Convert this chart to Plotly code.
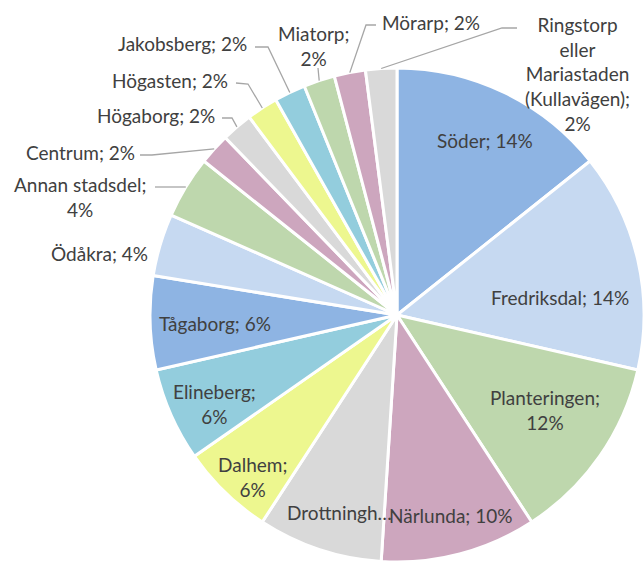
import math
import plotly.graph_objects as go

# ---------------------------------------------------------------------------
# Data: answers per district (n = 49)
# ---------------------------------------------------------------------------
districts = [
    "Söder", "Fredriksdal", "Planteringen", "Närlunda", "Drottninghög",
    "Dalhem", "Elineberg", "Tågaborg", "Ödåkra", "Annan stadsdel",
    "Centrum", "Högaborg", "Högasten", "Jakobsberg", "Miatorp", "Mörarp",
    "Ringstorp eller Mariastaden (Kullavägen)",
]
counts = [7, 7, 6, 5, 4, 3, 3, 3, 2, 2, 1, 1, 1, 1, 1, 1, 1]

# ---------------------------------------------------------------------------
# Styling
# ---------------------------------------------------------------------------
BLUE, LBLUE, GREEN, PINK = "#8EB4E3", "#C6D9F1", "#BED7AD", "#CDA6BE"
GRAY, YELLOW, TEAL = "#D9D9D9", "#EDF78F", "#93CDDD"
slice_colors = [BLUE, LBLUE, GREEN, PINK, GRAY, YELLOW, TEAL,
                BLUE, LBLUE, GREEN, PINK, GRAY, YELLOW, TEAL,
                GREEN, PINK, GRAY]

W, H = 644, 564
CX, CY, R = 397, 315, 247          # pie centre / radius in pixels
FONT = dict(family="Lato, Carlito, Liberation Sans, sans-serif", size=19, color="#404040")
LEADER = dict(color="#A6A6A6", width=1.3)

# label placement (pixels): centre of text, wrap mode, leader start/elbow
label_layout = {
    "Söder":          dict(pos=(485, 140)),
    "Fredriksdal":    dict(pos=(560, 297)),
    "Planteringen":   dict(pos=(545, 410), wrap="semi"),
    "Närlunda":       dict(pos=(450, 515)),
    "Drottninghög":   dict(pos=(339, 512), wrap="trunc"),
    "Dalhem":         dict(pos=(252, 477), wrap="semi"),
    "Elineberg":      dict(pos=(214, 404), wrap="semi"),
    "Tågaborg":       dict(pos=(215, 323)),
    "Ödåkra":         dict(pos=(99, 253)),
    "Annan stadsdel": dict(pos=(80, 197), wrap="semi", lead=[(155, 187)]),
    "Centrum":        dict(pos=(80, 152), lead=[(140, 155), (152, 155)]),
    "Högaborg":       dict(pos=(156, 115), lead=[(222, 118), (232, 118)]),
    "Högasten":       dict(pos=(170, 80), lead=[(236, 83), (248, 84)]),
    "Jakobsberg":     dict(pos=(182, 43), lead=[(255, 47), (268, 47)]),
    "Miatorp":        dict(pos=(313, 46), wrap="semi", lead=[(318, 68)]),
    "Mörarp":         dict(pos=(431, 22), lead=[(376, 25), (366, 25)]),
    "Ringstorp eller Mariastaden (Kullavägen)":
                      dict(pos=(577, 74), wrap="all", lead=[(517, 28), (502, 28)]),
}


def label_text(name, pct, wrap=None):
    txt = f"{name}; {pct}%"
    if wrap == "semi":
        return txt.replace("; ", ";<br>")
    if wrap == "all":
        return txt.replace(" ", "<br>")
    if wrap == "trunc":
        return name[:10] + "…"
    return txt


total = sum(counts)
fig = go.Figure()

fig.add_trace(go.Pie(
    labels=districts,
    values=counts,
    sort=False,
    direction="clockwise",
    rotation=0,
    textinfo="none",
    hoverinfo="label+percent",
    marker=dict(colors=slice_colors, line=dict(color="white", width=3)),
    domain=dict(x=[(CX - R) / W, (CX + R) / W],
                y=[1 - (CY + R) / H, 1 - (CY - R) / H]),
    showlegend=False,
))

# invisible pixel-scaled axes for labels and leader lines
fig.add_trace(go.Scatter(x=[0, W], y=[0, H], mode="markers",
                         marker=dict(opacity=0), hoverinfo="skip", showlegend=False))

annotations, shapes = [], []
cum = 0
for name, v in zip(districts, counts):
    mid = (cum + v / 2) / total * 2 * math.pi
    cum += v
    pct = round(v / total * 100)
    lay = label_layout[name]
    annotations.append(dict(
        x=lay["pos"][0], y=lay["pos"][1], xref="x", yref="y",
        text=label_text(name, pct, lay.get("wrap")),
        showarrow=False, xanchor="center", yanchor="middle",
        align="center", font=FONT,
    ))
    if "lead" in lay:
        rim = (CX + R * math.sin(mid), CY - R * math.cos(mid))
        pts = lay["lead"] + [rim]
        path = "M " + " L ".join(f"{px:.1f},{py:.1f}" for px, py in pts)
        shapes.append(dict(type="path", path=path, xref="x", yref="y",
                           line=LEADER, layer="above"))

fig.update_layout(
    width=W, height=H,
    margin=dict(l=0, r=0, t=0, b=0),
    paper_bgcolor="white", plot_bgcolor="rgba(0,0,0,0)",
    xaxis=dict(range=[0, W], visible=False, fixedrange=True),
    yaxis=dict(range=[H, 0], visible=False, fixedrange=True),
    annotations=annotations,
    shapes=shapes,
    font=FONT,
)

# drop the default page margin so the figure sits at the window's corner
fig.write_html("out.html", config=dict(displayModeBar=False),
               post_script="document.body.style.margin='0';")
